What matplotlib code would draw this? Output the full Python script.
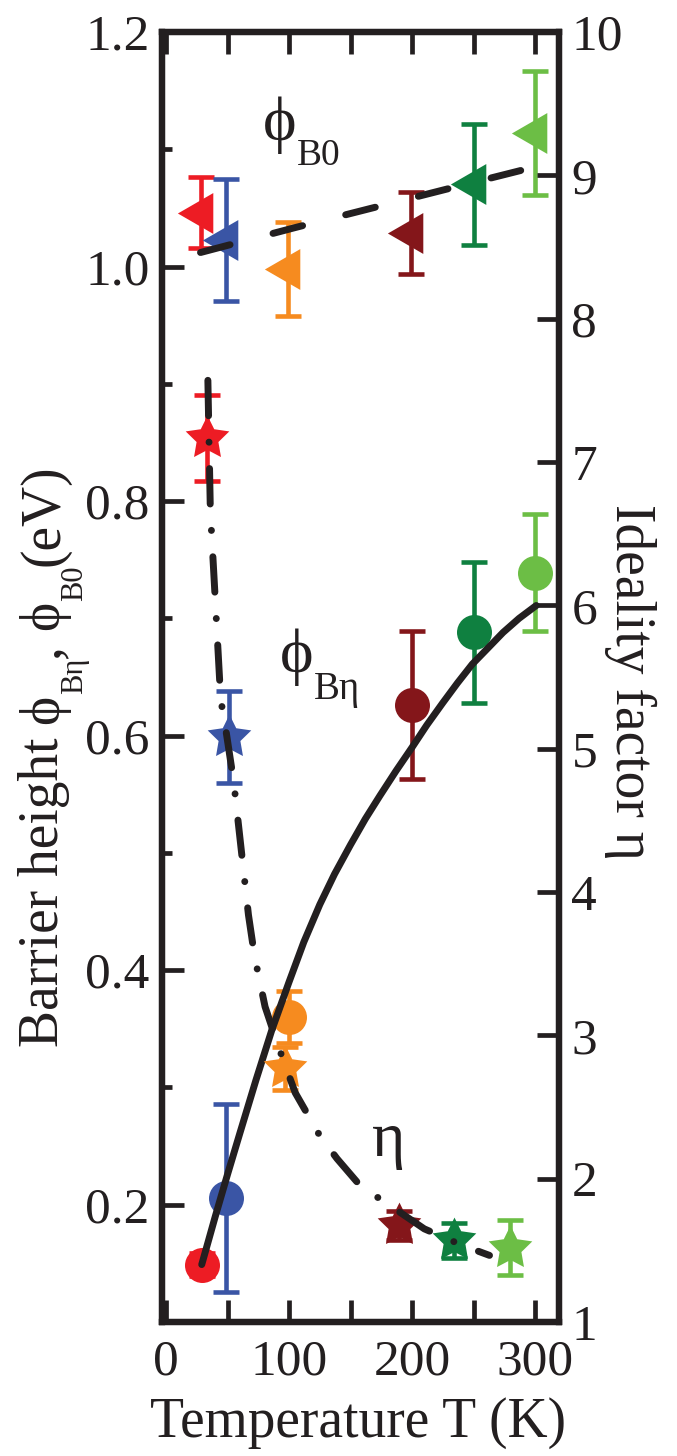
import matplotlib
matplotlib.use('Agg')
import matplotlib.pyplot as plt
from matplotlib.ticker import MultipleLocator
from matplotlib.transforms import IdentityTransform
import numpy as np

plt.rcParams['font.family'] = ['Liberation Serif', 'DejaVu Serif']

# ---------------- data ----------------
colors = ['#ED1C24', '#3A55A5', '#F68B1F', '#84161A', '#0F8040', '#6CBE45']

# barrier height phi_B0 (left axis, triangles)
T_b0 = [28, 49, 99, 199, 250, 300]
phi_b0 = [1.046, 1.023, 0.998, 1.029, 1.070, 1.114]
phi_b0_err = [0.030, 0.052, 0.040, 0.035, 0.052, 0.053]

# barrier height phi_Beta (left axis, circles)
T_bn = [29, 49, 100, 200, 250, 300]
phi_bn = [0.149, 0.206, 0.360, 0.626, 0.688, 0.739]
phi_bn_err = [0.010, 0.080, 0.022, 0.063, 0.060, 0.050]

# ideality factor eta (right axis, stars)
T_eta = [33, 51, 97, 189, 234, 280]
eta = [7.17, 5.08, 2.77, 1.675, 1.57, 1.52]
eta_err = [0.30, 0.32, 0.15, 0.10, 0.12, 0.19]

# fit curves
T_fit_b0 = [28, 104, 228, 300]
fit_b0 = [1.012, 1.033, 1.066, 1.085]

T_fit_bn = [29, 40, 50, 60, 73, 86, 100, 112, 125, 137, 150, 162, 174, 187, 200,
            212, 225, 237, 249, 262, 274, 287, 301]
fit_bn = [0.149, 0.190, 0.226, 0.261, 0.306, 0.349, 0.390, 0.424, 0.456, 0.482,
          0.507, 0.529, 0.549, 0.570, 0.590, 0.609, 0.628, 0.645, 0.661, 0.675,
          0.688, 0.700, 0.711]

T_fit_eta = [34, 36, 40, 44, 46, 49, 55, 67, 72, 80.5, 91, 105, 125, 139, 158, 186,
             210, 241, 263]
fit_eta = [7.57, 6.66, 6.04, 5.41, 5.25, 5.11, 4.77, 3.84, 3.55, 3.20, 2.93, 2.60,
           2.30, 2.14, 1.95, 1.79, 1.65, 1.535, 1.465]

INK = '#231F20'

# ---------------- figure ----------------
fig = plt.figure(figsize=(6.77, 14.56), dpi=100)
ax = fig.add_axes([0.2393, 0.0920, 0.5864, 0.886])
ax2 = ax.twinx()

tri = [(-1, 0), (0.5, 0.866), (0.5, -0.866), (-1, 0)]
ang = np.pi / 2 + np.arange(10) * np.pi / 5
rad = np.where(np.arange(10) % 2 == 0, 1.0, 0.5)
star = list(zip(rad * np.cos(ang), rad * np.sin(ang)))
star.append(star[0])

ebkw = dict(elinewidth=3.3, capsize=9.4, capthick=3.3, linestyle='none')

for i in range(len(T_b0)):
    ax.errorbar(T_b0[i], phi_b0[i], yerr=phi_b0_err[i], marker=tri, ms=34,
                color=colors[i], mec='none', zorder=3, **ebkw)
for i in range(len(T_bn)):
    ax.errorbar(T_bn[i], phi_bn[i], yerr=phi_bn_err[i], marker='o', ms=25.2,
                color=colors[i], mec='none', zorder=3, **ebkw)

ax.plot(T_fit_b0, fit_b0, color=INK, lw=5, dashes=(4.4, 6.4),
        dash_capstyle='round', zorder=5)
ax.plot(T_fit_bn, fit_bn, color=INK, lw=5, solid_capstyle='round',
        solid_joinstyle='round', zorder=5)

for i in range(len(T_eta)):
    ax2.errorbar(T_eta[i], eta[i], yerr=eta_err[i], marker=star, ms=33,
                 color=colors[i], mec='none', zorder=3, **ebkw)
ax2.plot(T_fit_eta, fit_eta, color=INK, lw=5, dashes=(5.1, 3.8, 0.01, 3.8),
         dash_capstyle='round', dash_joinstyle='round', zorder=5)

# ---------------- axes ----------------
ax.set_xlim(-3.3, 319.5)
ax.set_ylim(0.1, 1.2)
ax2.set_ylim(1, 10)

ax.xaxis.set_major_locator(MultipleLocator(100))
ax.xaxis.set_minor_locator(MultipleLocator(50))
ax.yaxis.set_minor_locator(MultipleLocator(0.1))
ax2.yaxis.set_major_locator(MultipleLocator(1))
ax.set_yticks([0.2, 0.4, 0.6, 0.8, 1.0, 1.2])
ax.set_yticklabels(['0.2', '0.4', '0.6', '0.8', '1.0', '1.2'])

ax.tick_params(axis='both', which='major', direction='in', length=15.8, width=3.4,
               labelsize=37, top=True, right=False, pad=9, colors=INK)
ax.tick_params(axis='x', which='minor', direction='in', length=15.8, width=3.4,
               top=True, bottom=True, colors=INK)
ax.tick_params(axis='y', which='minor', direction='in', length=7.5, width=3.4,
               left=True, right=False, colors=INK)
ax.tick_params(axis='x', which='major', pad=12)
ax2.tick_params(axis='y', which='major', direction='in', length=15.8, width=3.4,
                labelsize=37, pad=9, colors=INK)

for a in (ax, ax2):
    for s in a.spines.values():
        s.set_linewidth(4.5)
        s.set_color(INK)

# ---------------- texts ----------------
renderer = fig.canvas.get_renderer()
H = 1456


def row(x, y, pieces, rot=0):
    """pieces: (text, fontsize, baseline offset px, gap after px); x, y in pixels"""
    for s, fs, off, gap in pieces:
        if rot == 0:
            t = fig.text(x, y - off, s, fontsize=fs, ha='left', va='baseline',
                         color=INK, transform=IdentityTransform())
            x = t.get_window_extent(renderer).x1 + gap
        else:
            t = fig.text(x + off, y, s, fontsize=fs, rotation=90,
                         rotation_mode='anchor', ha='left', va='baseline',
                         color=INK, transform=IdentityTransform())
            y = t.get_window_extent(renderer).y1 + gap


def at(T, v):
    return ax.transData.transform((T, v))


x0, y0 = at(79, 1.108)
row(x0, y0, [('ϕ', 46, 0, 0), ('B0', 27, 25, 0)])
x0, y0 = at(92.7, 0.654)
row(x0, y0, [('ϕ', 46, 0, 0), ('Bη', 28, 27, 0)])
x0, y0 = at(167.5, 0.242)
row(x0, y0, [('η', 46, 0, 0)])

row(58, H - 1047, [('Barrier height', 40, 0, 14), ('ϕ', 40, 0, 0), ('Bη', 22, 24, 0),
                   (',', 40, 0, 14), ('ϕ', 40, 0, 0), ('B0', 22, 24, 0),
                   ('(eV)', 40, 0, 0)], rot=90)

fig.text(630 / 677, 1 - 682 / 1456, 'Ideality factor η', rotation=270,
         fontsize=40, ha='center', va='center', color=INK)
fig.text(358 / 677, 1 - 1423 / 1456, 'Temperature T (K)', fontsize=40,
         ha='center', va='center', color=INK)

fig.savefig('out.png', dpi=100)
